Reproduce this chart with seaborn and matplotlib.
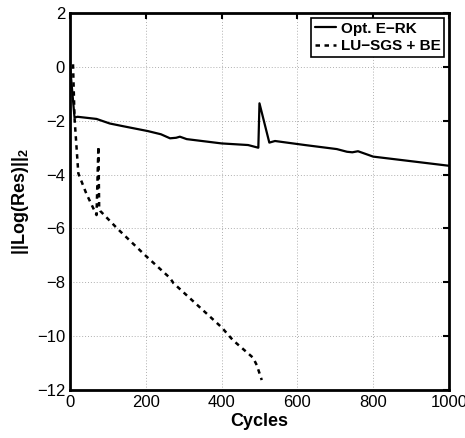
import matplotlib
matplotlib.use("Agg")
import matplotlib.pyplot as plt
import seaborn as sns
import pandas as pd

# Opt. E-RK (solid)
erk_cycles = [0, 12, 20, 70, 105, 140, 205, 240, 264, 280, 290, 308, 400, 470, 497, 500, 526, 541,
              620, 704, 731, 745, 760, 800, 900, 1000]
erk_res = [0.05, -1.88, -1.85, -1.93, -2.1, -2.2, -2.38, -2.5, -2.65, -2.63, -2.59, -2.68, -2.84, -2.9,
           -3.0, -1.35, -2.81, -2.75, -2.9, -3.05, -3.15, -3.17, -3.13, -3.33, -3.5, -3.67]

# LU-SGS + BE (dashed)
lu_cycles = [8, 12, 22, 43, 70, 75, 77, 80, 124, 198, 264, 273, 400, 430, 483, 493, 506]
lu_res = [0.1, -1.9, -3.95, -4.7, -5.5, -2.95, -5.25, -5.35, -5.99, -6.99, -7.84, -8.03, -9.67, -10.15,
          -10.8, -11.08, -11.63]

sns.set_style("white")
plt.rcParams['font.family'] = ['Liberation Sans', 'DejaVu Sans']
plt.rcParams['text.color'] = 'black'
plt.rcParams['axes.labelcolor'] = 'black'
plt.rcParams['xtick.color'] = 'black'
plt.rcParams['ytick.color'] = 'black'
plt.rcParams['mathtext.fontset'] = 'custom'
plt.rcParams['mathtext.rm'] = 'Liberation Sans'
plt.rcParams['mathtext.bf'] = 'Liberation Sans:bold'

fig = plt.figure(figsize=(4.65, 4.38), dpi=100)
ax = fig.add_axes([0.1505, 0.1096, 0.815, 0.8604])

df1 = pd.DataFrame({"Cycles": erk_cycles, "Res": erk_res})
df2 = pd.DataFrame({"Cycles": lu_cycles, "Res": lu_res})
sns.lineplot(data=df1, x="Cycles", y="Res", ax=ax, color="black", lw=1.6,
             sort=False, estimator=None, label="Opt. E\u2212RK")
sns.lineplot(data=df2, x="Cycles", y="Res", ax=ax, color="black", lw=1.8,
             sort=False, estimator=None, label="LU\u2212SGS + BE", linestyle=(0, (1.8, 1.8)))

ax.set_xlim(0, 1000)
ax.set_ylim(-12, 2)
ax.set_xticks(range(0, 1001, 200))
ax.set_yticks(range(-12, 3, 2))
ax.grid(True, linestyle=(0, (1, 2)), color="#b0b0b0", lw=0.7)
ax.tick_params(direction="in", top=True, right=True, length=4, width=1.5, labelsize=12, colors="black")
for s in ax.spines.values():
    s.set_linewidth(2)
    s.set_color("black")

ax.set_xlabel("Cycles", fontsize=13, fontweight="bold", labelpad=2)
ax.set_ylabel("||Log(Res)||$_\\mathbf{2}$", fontsize=13, fontweight="bold", labelpad=4)

leg = ax.legend(loc="upper right", prop={"weight": "bold", "size": 11},
                handlelength=1.4, handletextpad=0.3, borderpad=0.25, labelspacing=0.25,
                fancybox=False, edgecolor="black", framealpha=1, borderaxespad=0.3)
leg.get_frame().set_linewidth(1.2)
for t in leg.get_texts():
    t.set_color("black")

fig.savefig("out.png", dpi=100)
